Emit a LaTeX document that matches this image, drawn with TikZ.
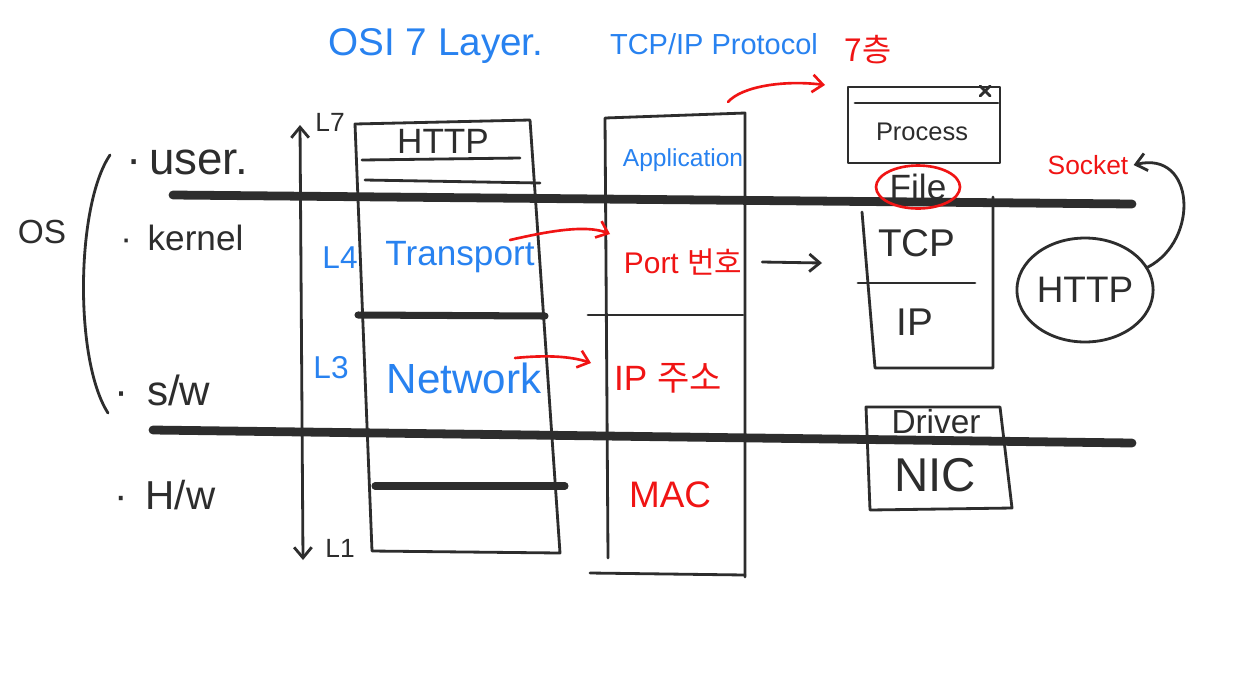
\documentclass[tikz,border=0pt]{standalone}
\usepackage{fontspec}
\setmainfont{Liberation Sans}
\newfontfamily\kr{Noto Sans CJK KR}
\usetikzlibrary{arrows.meta,shapes.geometric}
\definecolor{hblue}{RGB}{40,130,240}
\definecolor{hred}{RGB}{240,20,20}
\definecolor{ink}{RGB}{45,45,45}
\newcommand\fsz[1]{\fontsize{#1}{#1}\selectfont}
\begin{document}
\begin{tikzpicture}[x=0.02cm,y=-0.02cm, line cap=round, line join=round,
  pen/.style={draw=ink,line width=1.6pt},
  redpen/.style={draw=hred,line width=1.5pt},
  thickpen/.style={draw=ink,line width=5pt},
  midpen/.style={draw=ink,line width=4pt},
  bluetxt/.style={text=hblue,inner sep=0pt},
  redtxt/.style={text=hred,inner sep=0pt},
  blacktxt/.style={text=ink,inner sep=0pt},
  tip/.style={-{Straight Barb[length=6pt,width=10pt]}},
  dtip/.style={{Straight Barb[length=6pt,width=10pt]}-{Straight Barb[length=6pt,width=10pt]}},
]
\fill[white] (0,0) rectangle (1256,680);
\useasboundingbox (0,0) rectangle (1256,680);

% titles
\node[bluetxt,font=\fsz{22}] (osi) at (436,46) {OSI 7 Layer.};
\node[bluetxt,font=\fsz{16.5}] (tcpip) at (714,44) {TCP/IP Protocol};
\node[redtxt,font=\kr\fsz{18}] (seven) at (868,50) {7층};

% left side
\node[blacktxt,font=\fsz{19}] (os) at (42,232) {OS};
\draw[pen] (110,155) .. controls (76,205) and (74,360) .. (108,413);
\node[blacktxt,font=\fsz{26},anchor=west] (user) at (126,162) {·\,user.};
\node[blacktxt,font=\fsz{20},anchor=west] (kernel) at (120,238) {·\;\,kernel};
\node[blacktxt,font=\fsz{24},anchor=west] (sw) at (114,390) {·\;\,s/w};
\node[blacktxt,font=\fsz{23},anchor=west] (hw) at (114,495) {·\;\,H/w};

% thick boundary lines
\draw[thickpen] (173,195) -- (1132,204);
\draw[thickpen] (153,430) -- (1132,443);

% layer range arrow
\coordinate (ltop) at (300,125);
\coordinate (lbot) at (303,560);
\draw[pen,dtip] (ltop) -- (lbot);
\node[blacktxt,font=\fsz{15}] (l7) at (330,122) {L7};
\node[blacktxt,font=\fsz{15}] (l1) at (340,548) {L1};

% OSI column
\draw[pen] (355,124) -- (530,120) -- (560,553) -- (372,551) -- cycle;
\node[blacktxt,font=\fsz{20}] (http1) at (443,141) {HTTP};
\draw[pen] (362,160) -- (520,158);
\draw[pen] (365,180) -- (540,183);
\draw[midpen] (358,315) -- (545,316);
\draw[midpen] (375,486) -- (565,486);
\node[bluetxt,font=\fsz{18}] (l4) at (340,258) {L4};
\node[bluetxt,font=\fsz{20}] (transport) at (460,257) {Transport};
\node[bluetxt,font=\fsz{18}] (l3) at (331,368) {L3};
\node[bluetxt,font=\fsz{24}] (network) at (464,378) {Network};

% TCP/IP column
\draw[pen] (608,558) -- (605,118) -- (745,113) -- (745,577);
\draw[pen] (590,573) -- (745,575);
\draw[pen] (588,315) -- (743,315);
\node[bluetxt,font=\fsz{14}] (app) at (683,160) {Application};
\node[redtxt,font=\fsz{17}] (port) at (683,262) {Port \kr 번호};
\node[redtxt,font=\fsz{20}] (ipaddr) at (668,378) {IP \kr 주소};
\node[redtxt,font=\fsz{21}] (mac) at (670,495) {MAC};

% red arrows between columns
\coordinate (trOut) at (510,240);
\coordinate (portIn) at (610,234);
\coordinate (nwOut) at (515,358);
\coordinate (ipIn) at (591,363);
\draw[redpen,tip] (trOut) .. controls (545,232) and (585,224) .. (portIn);
\draw[redpen,tip] (nwOut) .. controls (545,355) and (570,356) .. (ipIn);

% process window
\draw[pen] (848,87) rectangle (1000,163);
\draw[pen] (855,103) -- (998,103);
\draw[pen] (980,86) -- (990,96) (990,86) -- (980,96);
\node[blacktxt,font=\fsz{14.5}] (process) at (922,132) {Process};
\coordinate (appTop) at (728,102);
\coordinate (procIn) at (825,85);
\draw[redpen,tip] (appTop) .. controls (742,86) and (785,80) .. (procIn);

% File
\node[blacktxt,font=\fsz{20}] (file) at (918,187) {File};
\draw[redpen] (file.center) ellipse [x radius=0.84cm, y radius=0.43cm];

% TCP / IP box
\draw[pen] (862,212) -- (875,368) -- (993,368) -- (993,197);
\draw[pen] (858,283) -- (975,283);
\node[blacktxt,font=\fsz{22}] (tcp) at (917,243) {TCP};
\node[blacktxt,font=\fsz{22}] (ip) at (915,322) {IP};
\coordinate (tcpIn) at (822,263);
\draw[pen,tip] ([xshift=0.4cm]port.east) -- (tcpIn);

% HTTP circle and socket
\node[draw=ink,line width=1.6pt,ellipse,minimum width=2.6cm,minimum height=2.08cm,inner sep=0pt,text=ink,font=\fsz{21}] (httpc) at (1085,290) {HTTP};
\node[redtxt,font=\fsz{15}] (socket) at (1088,165) {Socket};
\draw[pen,tip] (httpc.20) .. controls (1200,240) and (1195,150) .. ([xshift=0.1cm]socket.east);

% Driver / NIC
\draw[pen] (866,407) -- (1000,407) -- (1012,508) -- (870,510) -- cycle;
\node[blacktxt,font=\fsz{19}] (driver) at (936,422) {Driver};
\node[blacktxt,font=\fsz{27}] (nic) at (935,475) {NIC};
\end{tikzpicture}
\end{document}
